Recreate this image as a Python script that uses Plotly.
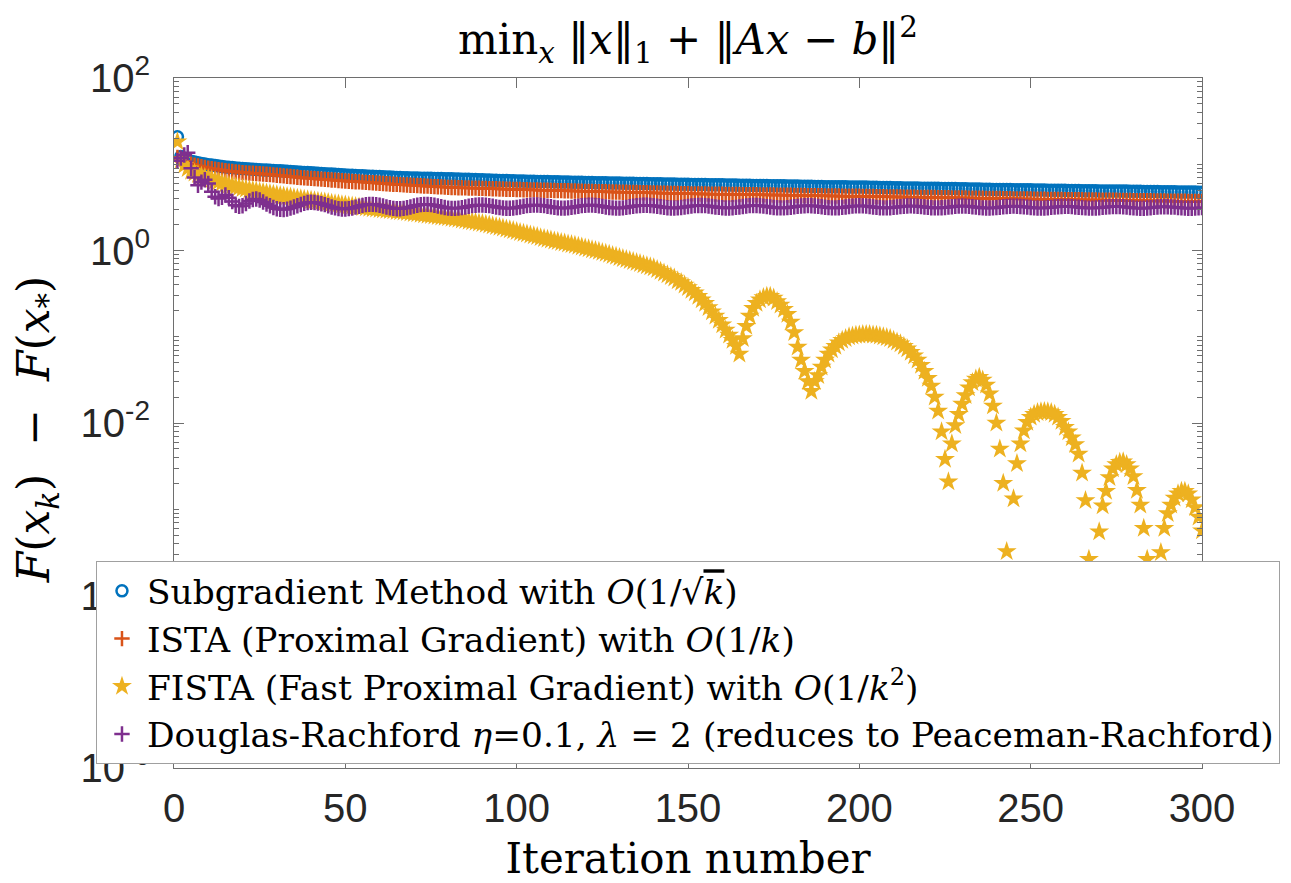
import plotly.graph_objects as go

# iteration index
iterations = list(range(1, 301))

# Subgradient method, F(x_k) - F(x_*)
subgradient = [
    20.8, 12.3, 11.6, 11.2, 10.8, 10.6, 10.4, 10.2, 10.05, 9.9,
    9.78, 9.66, 9.55, 9.42, 9.3, 9.22, 9.14, 9.06, 8.98, 8.9,
    8.85, 8.8, 8.75, 8.7, 8.65, 8.6, 8.55, 8.5, 8.46, 8.42,
    8.38, 8.33, 8.28, 8.23, 8.18, 8.14, 8.1, 8.05, 8.0, 7.96,
    7.92, 7.87, 7.82, 7.78, 7.73, 7.69, 7.64, 7.6, 7.55, 7.5,
    7.47, 7.44, 7.41, 7.38, 7.35, 7.31, 7.28, 7.25, 7.22, 7.19,
    7.16, 7.13, 7.1, 7.06, 7.03, 7.0, 6.98, 6.97, 6.95, 6.94,
    6.92, 6.9, 6.89, 6.87, 6.86, 6.85, 6.83, 6.82, 6.81, 6.8,
    6.78, 6.76, 6.74, 6.72, 6.7, 6.68, 6.66, 6.64, 6.62, 6.6,
    6.58, 6.56, 6.54, 6.52, 6.5, 6.48, 6.46, 6.44, 6.42, 6.4,
    6.39, 6.38, 6.36, 6.35, 6.34, 6.33, 6.32, 6.3, 6.29, 6.28,
    6.27, 6.25, 6.24, 6.23, 6.22, 6.2, 6.19, 6.18, 6.17, 6.16,
    6.14, 6.13, 6.12, 6.11, 6.1, 6.09, 6.08, 6.07, 6.06, 6.05,
    6.04, 6.03, 6.02, 6.01, 6.0, 5.99, 5.98, 5.97, 5.96, 5.95,
    5.94, 5.93, 5.92, 5.91, 5.9, 5.89, 5.88, 5.87, 5.86, 5.85,
    5.84, 5.83, 5.82, 5.82, 5.81, 5.8, 5.79, 5.78, 5.77, 5.77,
    5.76, 5.75, 5.74, 5.73, 5.72, 5.71, 5.7, 5.69, 5.68, 5.68,
    5.67, 5.66, 5.66, 5.65, 5.65, 5.64, 5.63, 5.62, 5.61, 5.6,
    5.59, 5.58, 5.57, 5.56, 5.55, 5.54, 5.53, 5.52, 5.51, 5.5,
    5.5, 5.49, 5.48, 5.48, 5.47, 5.47, 5.46, 5.46, 5.45, 5.45,
    5.44, 5.43, 5.42, 5.41, 5.4, 5.39, 5.38, 5.37, 5.36, 5.35,
    5.34, 5.33, 5.32, 5.31, 5.3, 5.3, 5.29, 5.28, 5.28, 5.27,
    5.27, 5.26, 5.26, 5.25, 5.25, 5.24, 5.23, 5.22, 5.21, 5.2,
    5.19, 5.18, 5.17, 5.16, 5.15, 5.14, 5.13, 5.12, 5.11, 5.1,
    5.1, 5.09, 5.08, 5.08, 5.07, 5.07, 5.06, 5.06, 5.05, 5.05,
    5.04, 5.03, 5.03, 5.02, 5.01, 5.0, 5.0, 4.99, 4.98, 4.98,
    4.97, 4.96, 4.96, 4.95, 4.94, 4.94, 4.93, 4.92, 4.92, 4.91,
    4.91, 4.9, 4.9, 4.9, 4.9, 4.89, 4.88, 4.88, 4.87, 4.86,
    4.86, 4.85, 4.84, 4.84, 4.83, 4.82, 4.82, 4.81, 4.8, 4.8,
    4.79, 4.79, 4.78, 4.78, 4.77, 4.77, 4.76, 4.76, 4.75, 4.75,
]

# ISTA (proximal gradient)
ista = [
    12.0, 11.3, 10.8, 10.4, 10.0, 9.75, 9.55, 9.35, 9.17, 9.0,
    8.87, 8.75, 8.63, 8.51, 8.4, 8.32, 8.24, 8.16, 8.08, 8.0,
    7.95, 7.9, 7.85, 7.8, 7.75, 7.7, 7.65, 7.6, 7.53, 7.47,
    7.4, 7.34, 7.27, 7.2, 7.14, 7.07, 7.0, 6.95, 6.9, 6.86,
    6.81, 6.76, 6.72, 6.67, 6.63, 6.58, 6.54, 6.49, 6.45, 6.4,
    6.36, 6.32, 6.28, 6.25, 6.21, 6.17, 6.13, 6.1, 6.06, 6.02,
    5.99, 5.95, 5.91, 5.87, 5.84, 5.8, 5.77, 5.74, 5.71, 5.69,
    5.66, 5.63, 5.6, 5.57, 5.54, 5.51, 5.49, 5.46, 5.43, 5.4,
    5.38, 5.37, 5.35, 5.34, 5.32, 5.31, 5.29, 5.28, 5.26, 5.25,
    5.23, 5.22, 5.2, 5.19, 5.17, 5.16, 5.14, 5.13, 5.11, 5.1,
    5.09, 5.07, 5.06, 5.05, 5.04, 5.02, 5.01, 5.0, 4.99, 4.98,
    4.96, 4.95, 4.94, 4.93, 4.92, 4.9, 4.89, 4.88, 4.86, 4.85,
    4.84, 4.83, 4.82, 4.81, 4.8, 4.79, 4.78, 4.77, 4.76, 4.75,
    4.74, 4.73, 4.72, 4.71, 4.7, 4.69, 4.68, 4.67, 4.66, 4.65,
    4.64, 4.63, 4.62, 4.61, 4.6, 4.59, 4.58, 4.57, 4.56, 4.55,
    4.54, 4.54, 4.53, 4.52, 4.52, 4.51, 4.5, 4.5, 4.49, 4.49,
    4.48, 4.47, 4.47, 4.46, 4.46, 4.45, 4.44, 4.44, 4.43, 4.43,
    4.42, 4.42, 4.41, 4.41, 4.4, 4.39, 4.39, 4.38, 4.38, 4.37,
    4.36, 4.36, 4.35, 4.34, 4.33, 4.33, 4.32, 4.31, 4.31, 4.3,
    4.29, 4.29, 4.28, 4.28, 4.27, 4.27, 4.26, 4.26, 4.25, 4.25,
    4.24, 4.23, 4.23, 4.22, 4.21, 4.21, 4.2, 4.19, 4.19, 4.18,
    4.17, 4.17, 4.16, 4.15, 4.15, 4.14, 4.13, 4.13, 4.12, 4.12,
    4.11, 4.11, 4.1, 4.1, 4.1, 4.09, 4.08, 4.08, 4.07, 4.07,
    4.06, 4.05, 4.05, 4.04, 4.03, 4.03, 4.02, 4.01, 4.01, 4.0,
    4.0, 3.99, 3.98, 3.98, 3.97, 3.97, 3.96, 3.96, 3.95, 3.95,
    3.94, 3.94, 3.93, 3.93, 3.92, 3.91, 3.91, 3.9, 3.9, 3.89,
    3.89, 3.88, 3.88, 3.87, 3.87, 3.86, 3.86, 3.85, 3.85, 3.84,
    3.84, 3.83, 3.83, 3.82, 3.82, 3.81, 3.81, 3.8, 3.8, 3.79,
    3.79, 3.78, 3.78, 3.77, 3.77, 3.76, 3.76, 3.75, 3.75, 3.74,
    3.74, 3.73, 3.73, 3.72, 3.72, 3.71, 3.71, 3.7, 3.7, 3.7,
]

# FISTA (fast proximal gradient)
fista = [
    18.2, 11.2, 9.77, 8.91, 8.32, 7.94, 7.59, 7.33, 7.08, 6.84,
    6.64, 6.44, 6.25, 6.07, 5.89, 5.75, 5.62, 5.50, 5.37, 5.25,
    5.16, 5.07, 4.98, 4.90, 4.81, 4.73, 4.65, 4.57, 4.49, 4.42,
    4.35, 4.29, 4.23, 4.16, 4.10, 4.04, 3.98, 3.93, 3.88, 3.83,
    3.78, 3.73, 3.68, 3.64, 3.59, 3.54, 3.49, 3.45, 3.40, 3.36,
    3.31, 3.27, 3.24, 3.20, 3.16, 3.13, 3.09, 3.05, 3.03, 2.99,
    2.96, 2.93, 2.90, 2.88, 2.84, 2.82, 2.79, 2.75, 2.72, 2.69,
    2.66, 2.63, 2.60, 2.57, 2.54, 2.51, 2.48, 2.45, 2.43, 2.40,
    2.37, 2.33, 2.30, 2.26, 2.23, 2.19, 2.16, 2.12, 2.08, 2.05,
    2.01, 1.97, 1.93, 1.90, 1.86, 1.82, 1.78, 1.74, 1.70, 1.66,
    1.62, 1.58, 1.55, 1.51, 1.48, 1.45, 1.41, 1.38, 1.35, 1.32,
    1.29, 1.27, 1.24, 1.22, 1.19, 1.17, 1.15, 1.12, 1.10, 1.07,
    1.05, 1.02, 1.00, 0.977, 0.951, 0.927, 0.902, 0.877, 0.855, 0.832,
    0.809, 0.787, 0.766, 0.745, 0.724, 0.705, 0.684, 0.665, 0.646, 0.631,
    0.603, 0.575, 0.550, 0.525, 0.501, 0.479, 0.447, 0.427, 0.398, 0.372,
    0.347, 0.324, 0.295, 0.269, 0.245, 0.219, 0.195, 0.174, 0.155, 0.138,
    0.120, 0.105, 0.0912, 0.0776, 0.0631, 0.0955, 0.132, 0.174, 0.214, 0.245,
    0.269, 0.285, 0.295, 0.295, 0.282, 0.257, 0.234, 0.209, 0.182, 0.148,
    0.112, 0.0759, 0.0537, 0.0398, 0.0302, 0.0234, 0.0302, 0.0355, 0.0447, 0.0537,
    0.0631, 0.0708, 0.0776, 0.0851, 0.0912, 0.0955, 0.100, 0.102, 0.104, 0.105,
    0.106, 0.106, 0.106, 0.105, 0.104, 0.102, 0.100, 0.0977, 0.0955, 0.0912,
    0.0871, 0.0832, 0.0776, 0.0724, 0.0661, 0.0603, 0.0537, 0.0468, 0.0398, 0.0331,
    0.0269, 0.0200, 0.0138, 0.00794, 0.00380, 0.00209, 0.00575, 0.00933, 0.0126, 0.0166,
    0.0209, 0.0257, 0.0295, 0.0324, 0.0339, 0.0316, 0.0275, 0.0219, 0.0158, 0.0100,
    0.00501, 0.00200, 0.000324, 0.0000316, 0.00132, 0.00339, 0.00575, 0.00813, 0.0102, 0.0117,
    0.0126, 0.0132, 0.0135, 0.0136, 0.0135, 0.0132, 0.0126, 0.0117, 0.0105, 0.00891,
    0.00794, 0.00676, 0.00562, 0.00437, 0.00263, 0.00126, 0.000263, 0.0000251, 0.000126, 0.000550,
    0.00110, 0.00162, 0.00234, 0.00295, 0.00331, 0.00351, 0.00355, 0.00331, 0.00295, 0.00240,
    0.00166, 0.00112, 0.000603, 0.000263, 0.0000158, 0.0000631, 0.000178, 0.000316, 0.000603, 0.000891,
    0.00112, 0.00135, 0.00151, 0.00162, 0.00162, 0.00151, 0.00129, 0.00105, 0.000813, 0.000562,
]

# Douglas-Rachford, eta = 0.1, lambda = 2
douglas_rachford = [
    11.0, 11.8, 12.8, 13.6, 9.0, 7.0, 5.7, 6.2, 6.6, 6.0,
    4.8, 4.2, 4.0, 4.15, 4.4, 4.1, 3.7, 3.35, 3.25, 3.3,
    3.5, 3.75, 3.9, 3.95, 3.85, 3.65, 3.45, 3.3, 3.15, 3.05,
    3.0, 2.98, 3.02, 3.1, 3.2, 3.3, 3.42, 3.52, 3.6, 3.62,
    3.6, 3.55, 3.48, 3.4, 3.3, 3.2, 3.12, 3.06, 3.03, 3.03,
    3.06, 3.11, 3.18, 3.26, 3.34, 3.4, 3.43, 3.43, 3.4, 3.35,
    3.28, 3.2, 3.13, 3.08, 3.05, 3.05, 3.08, 3.13, 3.2, 3.28,
    3.35, 3.4, 3.43, 3.43, 3.4, 3.35, 3.28, 3.21, 3.15, 3.1,
    3.08, 3.08, 3.1, 3.14, 3.2, 3.26, 3.31, 3.35, 3.37, 3.37,
    3.35, 3.31, 3.26, 3.2, 3.15, 3.11, 3.09, 3.09, 3.11, 3.15,
    3.2, 3.26, 3.31, 3.35, 3.37, 3.37, 3.35, 3.31, 3.26, 3.21,
    3.16, 3.12, 3.1, 3.1, 3.12, 3.16, 3.21, 3.26, 3.31, 3.34,
    3.36, 3.36, 3.34, 3.3, 3.25, 3.2, 3.15, 3.12, 3.1, 3.1,
    3.12, 3.16, 3.21, 3.26, 3.3, 3.33, 3.35, 3.35, 3.33, 3.3,
    3.26, 3.21, 3.17, 3.13, 3.11, 3.11, 3.12, 3.15, 3.19, 3.24,
    3.28, 3.31, 3.33, 3.33, 3.31, 3.28, 3.24, 3.2, 3.16, 3.13,
    3.11, 3.11, 3.13, 3.16, 3.2, 3.24, 3.28, 3.31, 3.32, 3.32,
    3.3, 3.27, 3.23, 3.19, 3.15, 3.13, 3.12, 3.12, 3.14, 3.17,
    3.21, 3.25, 3.28, 3.3, 3.31, 3.3, 3.28, 3.25, 3.21, 3.17,
    3.14, 3.12, 3.12, 3.13, 3.16, 3.2, 3.24, 3.27, 3.29, 3.3,
    3.29, 3.27, 3.24, 3.2, 3.16, 3.13, 3.12, 3.12, 3.13, 3.16,
    3.19, 3.23, 3.26, 3.28, 3.29, 3.28, 3.26, 3.23, 3.19, 3.16,
    3.13, 3.12, 3.12, 3.13, 3.15, 3.18, 3.22, 3.25, 3.27, 3.28,
    3.27, 3.25, 3.22, 3.18, 3.15, 3.12, 3.11, 3.11, 3.12, 3.14,
    3.17, 3.21, 3.24, 3.26, 3.27, 3.26, 3.24, 3.21, 3.18, 3.15,
    3.12, 3.11, 3.1, 3.11, 3.13, 3.16, 3.19, 3.22, 3.24, 3.25,
    3.25, 3.23, 3.2, 3.17, 3.14, 3.12, 3.1, 3.1, 3.11, 3.13,
    3.16, 3.19, 3.21, 3.23, 3.24, 3.23, 3.21, 3.18, 3.15, 3.12,
    3.1, 3.09, 3.09, 3.11, 3.13, 3.16, 3.19, 3.21, 3.22, 3.22,
    3.2, 3.18, 3.15, 3.12, 3.1, 3.09, 3.09, 3.1, 3.12, 3.14,
]

series_names = [
    "Subgradient Method with <i>O</i>(1/√<span style='text-decoration:overline'><i>k</i></span>)",
    "ISTA (Proximal Gradient) with <i>O</i>(1/<i>k</i>)",
    "FISTA (Fast Proximal Gradient) with <i>O</i>(1/<i>k</i><sup>2</sup>)",
    "Douglas-Rachford <i>η</i>=0.1, <i>λ</i> = 2 (reduces to Peaceman-Rachford)",
]

y_tick_vals = [1e-6, 1e-4, 1e-2, 1e0, 1e2]
y_tick_text = ["10<sup>-6</sup>", "10<sup>-4</sup>", "10<sup>-2</sup>", "10<sup>0</sup>", "10<sup>2</sup>"]
x_tick_vals = [0, 50, 100, 150, 200, 250, 300]

SERIF = "DejaVu Serif"
SANS = "Liberation Sans, Arial, sans-serif"
AXIS_COLOR = "#6e6e6e"

# the page body adds an 8px offset, so the figure is drawn 8px smaller
FIG_W, FIG_H = 1283, 875

fig = go.Figure()

fig.add_trace(go.Scatter(
    x=iterations, y=subgradient, mode="markers", name=series_names[0],
    marker=dict(symbol="circle-open", size=11, color="#0072BD", line=dict(width=2.5, color="#0072BD")),
))
fig.add_trace(go.Scatter(
    x=iterations, y=ista, mode="markers", name=series_names[1],
    marker=dict(symbol="cross-thin", size=11, color="#D95319", line=dict(width=2.5, color="#D95319")),
))
fig.add_trace(go.Scatter(
    x=iterations, y=fista, mode="markers", name=series_names[2],
    marker=dict(symbol="star", size=15, color="#EDB120", line=dict(width=0)),
))
fig.add_trace(go.Scatter(
    x=iterations, y=douglas_rachford, mode="markers", name=series_names[3],
    marker=dict(symbol="cross-thin", size=11, color="#7E2F8E", line=dict(width=2.5, color="#7E2F8E")),
))

# minor ticks on the log axis (every 1..9 x 10^n except labelled decades)
minor_vals = [m * 10.0 ** e for e in range(-6, 2) for m in range(1, 10) if not (m == 1 and e % 2 == 0)]

fig.update_layout(
    width=FIG_W, height=FIG_H,
    paper_bgcolor="white", plot_bgcolor="white",
    margin=dict(l=166, r=89, t=70, b=115, autoexpand=False),
    title=dict(
        text="min<sub><i>x</i></sub> ‖<i>x</i>‖<sub>1</sub> + ‖<i>Ax</i> − <i>b</i>‖<sup>2</sup>",
        x=0.5, xref="paper", xanchor="center",
        y=1 - 17 / FIG_H, yref="container", yanchor="top",
        font=dict(family=SERIF, size=42, color="black"),
    ),
    showlegend=True,
    legend=dict(
        x=-0.0759, y=0.30, xanchor="left", yanchor="top",
        bgcolor="white", bordercolor="#a0a0a0", borderwidth=1,
        font=dict(family=SERIF, size=34.4, color="black"),
        itemwidth=40, tracegroupgap=5,
    ),
)

fig.update_xaxes(
    range=[0, 300], tickvals=x_tick_vals,
    showline=True, linecolor=AXIS_COLOR, linewidth=1, mirror="ticks",
    ticks="inside", ticklen=10, tickcolor=AXIS_COLOR,
    showgrid=False, zeroline=False,
    tickfont=dict(family=SANS, size=40, color="#262626"),
    ticklabelstandoff=5,
    title=dict(text="Iteration number", font=dict(family=SERIF, size=42, color="black"), standoff=17),
)

fig.update_yaxes(
    type="log", range=[-6, 2],
    tickvals=y_tick_vals, ticktext=y_tick_text,
    showline=True, linecolor=AXIS_COLOR, linewidth=1, mirror="ticks",
    ticks="inside", ticklen=10, tickcolor=AXIS_COLOR,
    minor=dict(tickvals=minor_vals, ticks="inside", ticklen=5, tickcolor=AXIS_COLOR),
    showgrid=False, zeroline=False,
    tickfont=dict(family=SANS, size=40, color="#262626"),
    ticklabelstandoff=15,
)

# y-axis label placed as rotated annotation
fig.add_annotation(
    text="<i>F</i>(<i>x</i><sub><i>k</i></sub>)&nbsp; − &nbsp;<i>F</i>(<i>x</i><sub>*</sub>)",
    x=-0.133, xref="paper", xanchor="center",
    y=0.49, yref="paper", yanchor="middle",
    textangle=-90, showarrow=False,
    font=dict(family=SERIF, size=44, color="black"),
)

fig.write_html("out.html")
